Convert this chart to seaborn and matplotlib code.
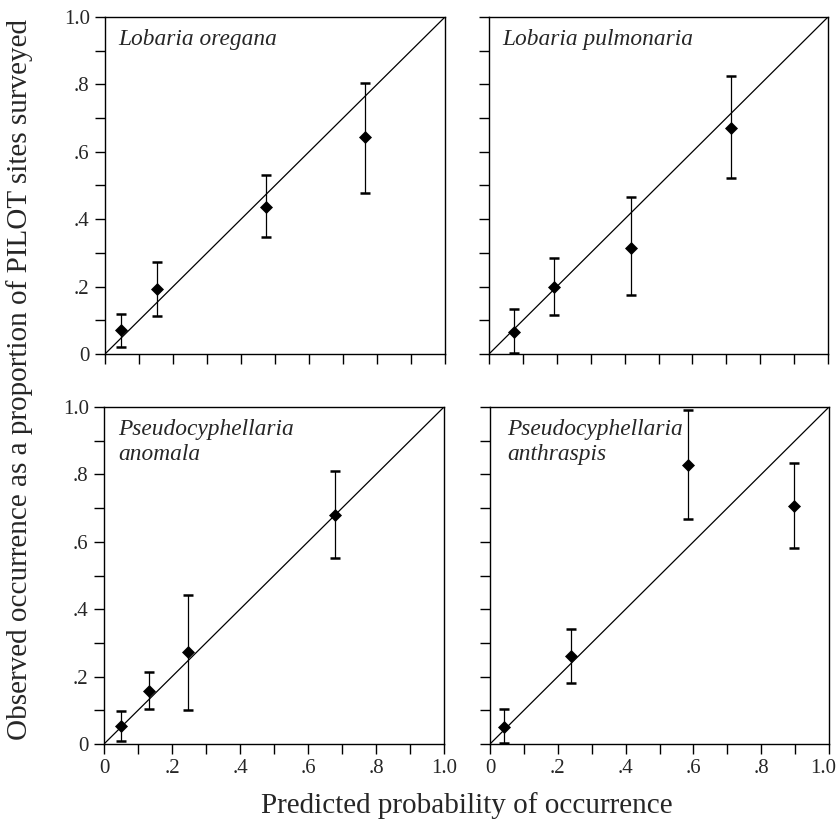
import matplotlib
matplotlib.use("Agg")
import matplotlib.pyplot as plt
import numpy as np
import pandas as pd
import seaborn as sns
from matplotlib.ticker import FixedLocator, FixedFormatter
from matplotlib.transforms import ScaledTranslation

# Species shown in the four panels (reading order); each entry is a list of lines
species = ["Lobaria oregana", "Lobaria pulmonaria",
           "Pseudocyphellaria anomala", "Pseudocyphellaria anthraspis"]
title_lines = [["Lobaria oregana"], ["Lobaria pulmonaria"],
               ["Pseudocyphellaria", "anomala"],
               ["Pseudocyphellaria", "anthraspis"]]

# Predicted probability (x) and observed proportion (y) with interval bounds
oregana_pred = [0.047, 0.154, 0.473, 0.766]
oregana_obs = [0.070, 0.193, 0.437, 0.643]
oregana_low = [0.022, 0.112, 0.346, 0.479]
oregana_high = [0.120, 0.272, 0.531, 0.804]

pulmonaria_pred = [0.074, 0.193, 0.419, 0.715]
pulmonaria_obs = [0.064, 0.199, 0.315, 0.671]
pulmonaria_low = [0.003, 0.116, 0.176, 0.522]
pulmonaria_high = [0.133, 0.284, 0.465, 0.824]

anomala_pred = [0.051, 0.132, 0.248, 0.678]
anomala_obs = [0.054, 0.158, 0.272, 0.679]
anomala_low = [0.010, 0.105, 0.101, 0.551]
anomala_high = [0.098, 0.215, 0.443, 0.811]

anthraspis_pred = [0.040, 0.240, 0.584, 0.897]
anthraspis_obs = [0.051, 0.260, 0.828, 0.705]
anthraspis_low = [0.002, 0.181, 0.667, 0.582]
anthraspis_high = [0.105, 0.341, 0.992, 0.835]

tick_values = [0.0, 0.2, 0.4, 0.6, 0.8, 1.0]
tick_labels = ["0", ".2", ".4", ".6", ".8", "1.0"]
minor_values = [0.1, 0.3, 0.5, 0.7, 0.9]

series = [
    (oregana_pred, oregana_obs, oregana_low, oregana_high),
    (pulmonaria_pred, pulmonaria_obs, pulmonaria_low, pulmonaria_high),
    (anomala_pred, anomala_obs, anomala_low, anomala_high),
    (anthraspis_pred, anthraspis_obs, anthraspis_low, anthraspis_high),
]

frames = []
for name, (p, o, lo, hi) in zip(species, series):
    frames.append(pd.DataFrame({"species": name, "predicted": p,
                                "observed": o, "low": lo, "high": hi}))
df = pd.concat(frames, ignore_index=True)

sns.set_style("ticks")
plt.rcParams["font.family"] = ["Liberation Serif", "DejaVu Serif"]

W, H = 839, 822
fig = plt.figure(figsize=(W / 100, H / 100), dpi=100)

# panel boxes in pixels: left, top, right, bottom
boxes = [(105, 17, 445, 354), (489, 17, 828, 354),
         (104, 407, 444, 744), (490, 407, 829, 744)]
title_x = [0.038, 0.04, 0.041, 0.05]

for i, (name, box) in enumerate(zip(species, boxes)):
    l, t, r, b = box
    ax = fig.add_axes([l / W, 1 - b / H, (r - l) / W, (b - t) / H])
    sub = df[df["species"] == name]

    ax.plot([0, 1], [0, 1], color="black", lw=0.9, zorder=1)
    ax.errorbar(sub["predicted"], sub["observed"],
                yerr=[sub["observed"] - sub["low"], sub["high"] - sub["observed"]],
                fmt="none", ecolor="black", elinewidth=0.9,
                capsize=3.6, capthick=1.8, zorder=2)
    sns.scatterplot(data=sub, x="predicted", y="observed", ax=ax,
                    marker="D", s=44, color="black", edgecolor="black",
                    linewidth=0, zorder=3, legend=False)

    ax.set_xlim(0, 1)
    ax.set_ylim(0, 1)
    ax.set_xlabel("")
    ax.set_ylabel("")
    for axis in (ax.xaxis, ax.yaxis):
        axis.set_major_locator(FixedLocator(tick_values))
        axis.set_minor_locator(FixedLocator(minor_values))
    ax.tick_params(which="both", direction="out", length=7, width=1,
                   color="black", labelsize=15, pad=4,
                   top=False, right=False)
    if i >= 2:
        ax.xaxis.set_major_formatter(FixedFormatter(tick_labels))
    else:
        ax.tick_params(axis="x", labelbottom=False)
    if i % 2 == 0:
        ax.yaxis.set_major_formatter(FixedFormatter(tick_labels))
    else:
        ax.tick_params(axis="y", labelleft=False)
    for sp in ax.spines.values():
        sp.set_visible(True)
        sp.set_linewidth(1.0)
        sp.set_color("black")

    # keep the right-most "1.0" inside the figure edge
    if i == 3:
        last = ax.get_xticklabels()[-1]
        last.set_transform(last.get_transform()
                           + ScaledTranslation(-0.06, 0, fig.dpi_scale_trans))

    for k, line in enumerate(title_lines[i]):
        ax.text(title_x[i], 0.917 - k * 0.075, line, transform=ax.transAxes,
                fontsize=16.8, fontstyle="italic", ha="left", va="baseline")

fig.text(467 / W, 1 - 806 / H, "Predicted probability of occurrence",
         ha="center", va="center", fontsize=21)
fig.text(20 / W, 1 - 379 / H,
         "Observed occurrence as a proportion of PILOT sites surveyed",
         ha="center", va="center", rotation=90, fontsize=21)

fig.savefig("out.png", dpi=100)
